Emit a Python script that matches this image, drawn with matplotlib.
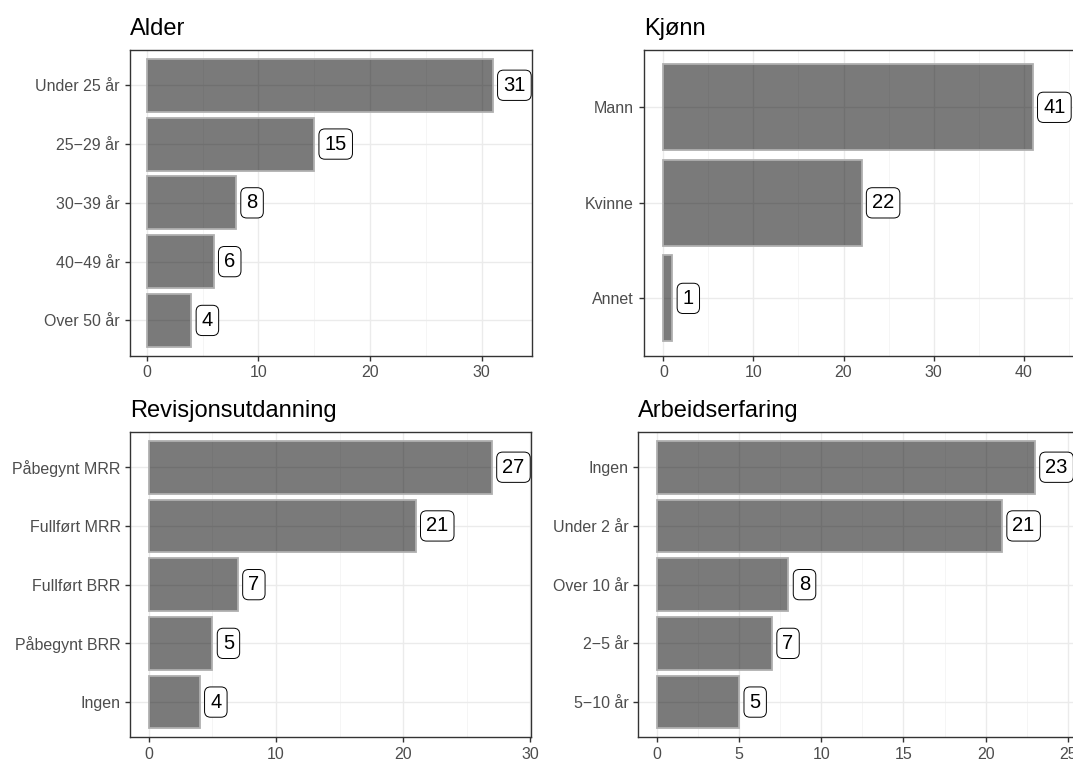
import matplotlib
matplotlib.use("Agg")
import matplotlib.pyplot as plt
from matplotlib.ticker import MultipleLocator

plt.rcParams['font.family'] = ['Liberation Sans', 'DejaVu Sans']

# Data (listed top to bottom as shown)
alder_cat = ["Under 25 år", "25−29 år", "30−39 år", "40−49 år", "Over 50 år"]
alder_n = [31, 15, 8, 6, 4]

kjonn_cat = ["Mann", "Kvinne", "Annet"]
kjonn_n = [41, 22, 1]

revis_cat = ["Påbegynt MRR", "Fullført MRR", "Fullført BRR", "Påbegynt BRR", "Ingen"]
revis_n = [27, 21, 7, 5, 4]

arbeid_cat = ["Ingen", "Under 2 år", "Over 10 år", "2−5 år", "5−10 år"]
arbeid_n = [23, 21, 8, 7, 5]

W, H = 1073, 760
fig = plt.figure(figsize=(W / 100, H / 100), dpi=100)


def px_axes(left, right, top, bottom):
    return fig.add_axes([left / W, 1 - bottom / H, (right - left) / W, (bottom - top) / H])


def panel(ax, title, cats, vals, xlim, major, minor):
    n = len(cats)
    ys = [n - i for i in range(n)]
    ax.set_xlim(*xlim)
    ax.set_ylim(0.4, n + 0.6)
    ax.xaxis.set_major_locator(MultipleLocator(major))
    ax.xaxis.set_minor_locator(MultipleLocator(minor))
    ax.grid(which='major', color='#ebebeb', linewidth=1.0)
    ax.grid(which='minor', axis='x', color='#f4f4f4', linewidth=0.6)
    ax.set_axisbelow(True)
    ax.barh(ys, vals, height=0.9, color=(0, 0, 0, 0.52),
            edgecolor='#b0b0b0', linewidth=1.3)
    for y, v in zip(ys, vals):
        ax.annotate(str(v), xy=(v, y), xytext=(7.5, 0), textcoords='offset points',
                    ha='left', va='center', fontsize=14.5, color='black',
                    bbox=dict(boxstyle='round,pad=0.28,rounding_size=0.3',
                              fc='white', ec='black', lw=0.7))
    ax.set_yticks(ys)
    ax.set_yticklabels(cats)
    ax.tick_params(axis='both', which='major', labelsize=11.5, labelcolor='#4d4d4d',
                   color='#333333', length=3.5, width=1.0)
    ax.tick_params(axis='both', which='minor', length=0)
    for s in ax.spines.values():
        s.set_color('#333333')
        s.set_linewidth(1.0)
    ax.set_title(title, loc='left', fontsize=17, pad=11)


ax1 = px_axes(129.5, 532.3, 50, 355.7)
panel(ax1, "Alder", alder_cat, alder_n, (-1.54, 34.54), 10, 5)

ax2 = px_axes(643.7, 1076, 50, 355.7)
panel(ax2, "Kjønn", kjonn_cat, kjonn_n, (-2.18, 45.8), 10, 5)

ax3 = px_axes(130.3, 531.3, 432, 737.3)
panel(ax3, "Revisjonsutdanning", revis_cat, revis_n, (-1.47, 30.1), 10, 5)

ax4 = px_axes(638, 1076, 432, 737.3)
panel(ax4, "Arbeidserfaring", arbeid_cat, arbeid_n, (-1.16, 25.5), 5, 2.5)

fig.savefig("out.png", dpi=100)
